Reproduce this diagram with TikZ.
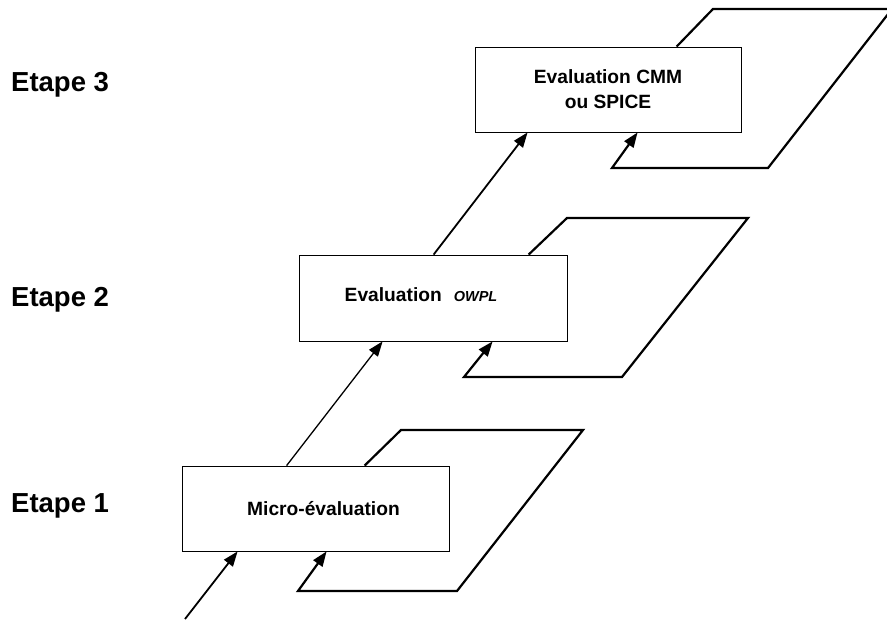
\documentclass[tikz,border=0pt]{standalone}
\usepackage{fontspec}
\setmainfont{Liberation Sans}
\usetikzlibrary{arrows.meta,calc}
\begin{document}
\begin{tikzpicture}[x=1pt,y=-1pt,
  box/.style={draw, line width=0.8pt, fill=white, inner sep=0pt,
    font=\bfseries\fontsize{19.2}{25}\selectfont, align=center},
  etape/.style={anchor=base west, inner sep=0pt, font=\bfseries\fontsize{27.5}{30}\selectfont},
  tip/.style={-{Triangle[length=15pt,width=11pt]}},
  flow/.style={tip, line width=1.8pt},
  thinflow/.style={tip, line width=1.3pt},
  loop/.style={tip, line width=2.2pt, line join=miter}]
\useasboundingbox (0,0) rectangle (887,621);
\clip (0,0) rectangle (887,621);

% labels
\node[etape] (e3) at (11,91) {Etape 3};
\node[etape] (e2) at (11,306) {Etape 2};
\node[etape] (e1) at (11,512) {Etape 1};

% boxes
\node[box, minimum width=267pt, minimum height=85pt] (b1) at (315.5,508.5)
  {\hspace{16pt}Micro-évaluation};
\node[box, minimum width=268pt, minimum height=86pt] (b2) at (433,298)
  {\raisebox{6pt}{Evaluation\hspace{12pt}{\itshape\fontsize{14.5}{16}\selectfont OWPL}\hspace{24pt}}};
\node[box, minimum width=266pt, minimum height=85pt] (b3) at (608,89.5)
  {Evaluation CMM\\ou SPICE\hspace{8pt}};

% main chain
\coordinate (start) at (185,619);
\draw[flow] (start) -- ($(b1.south west)+(56,0)$);
\draw[thinflow] ($(b1.north west)+(105,0)$) -- ($(b2.south west)+(84,0)$);
\draw[flow] ($(b2.north west)+(135,0)$) -- ($(b3.south west)+(53,0)$);

% feedback loops
\coordinate (p1a) at (401,430);
\coordinate (p1b) at (583,430);
\coordinate (p1c) at (457,591);
\coordinate (p1d) at (298,591);
\draw[loop] ($(b1.north west)+(183,0)$) -- (p1a) -- (p1b) -- (p1c) -- (p1d) -- ($(b1.south west)+(145,0)$);

\coordinate (p2a) at (567,218);
\coordinate (p2b) at (748,218);
\coordinate (p2c) at (622,377);
\coordinate (p2d) at (464,377);
\draw[loop] ($(b2.north west)+(230,0)$) -- (p2a) -- (p2b) -- (p2c) -- (p2d) -- ($(b2.south west)+(194,0)$);

\coordinate (p3a) at (713,9);
\coordinate (p3b) at (892,9);
\coordinate (p3c) at (768,168);
\coordinate (p3d) at (612,168);
\draw[loop] ($(b3.north west)+(202,0)$) -- (p3a) -- (p3b) -- (p3c) -- (p3d) -- ($(b3.south west)+(163,0)$);
\end{tikzpicture}
\end{document}
